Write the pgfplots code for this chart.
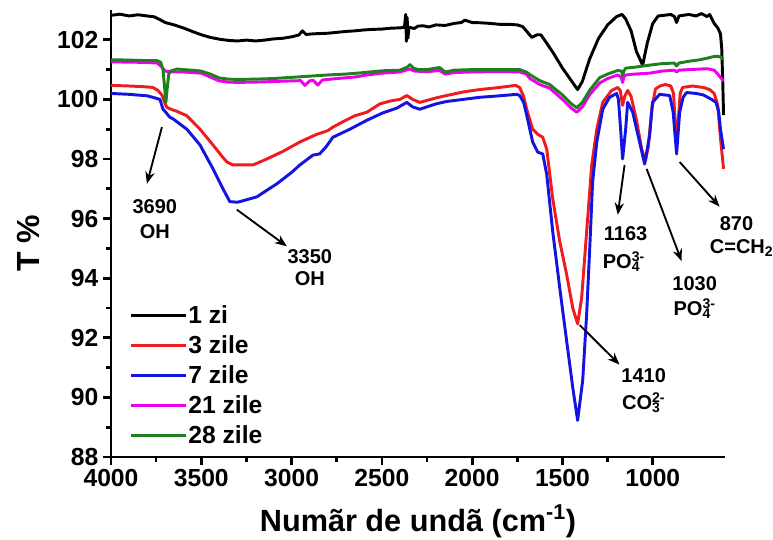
\documentclass[border=0pt]{standalone}
\usepackage{fontspec}
\setmainfont{Liberation Sans}
\usepackage{pgfplots}
\pgfplotsset{compat=1.18}
\usetikzlibrary{arrows.meta}
\definecolor{cblue}{RGB}{20,20,225}
\definecolor{cred}{RGB}{238,28,28}
\definecolor{cmag}{RGB}{238,0,238}
\definecolor{cgreen}{RGB}{30,128,30}
\newcommand\annfont{\bfseries\fontsize{15}{16}\selectfont}
\newcommand\subsup[2]{\rlap{\textsubscript{#1}}\textsuperscript{#2}}
\begin{document}
\begin{tikzpicture}
\path[use as bounding box] (-83.25pt,-61.5pt) rectangle (496.5pt,342.75pt);
\begin{axis}[
  at={(0pt,0pt)}, anchor=south west,
  scale only axis, width=460.5pt, height=335.25pt,
  xmin=600, xmax=4000, ymin=88, ymax=103, x dir=reverse,
  axis x line=bottom, axis y line=left,
  axis line style={-, line width=2.2pt},
  every tick/.style={black, line width=2pt},
  tick align=outside,
  major tick length=6pt, minor tick length=3.5pt,
  xtick={1000,1500,2000,2500,3000,3500,4000},
  ytick={88,90,92,94,96,98,100,102},
  minor x tick num=1, minor y tick num=1,
  /pgf/number format/assume math mode=true,
  /pgf/number format/1000 sep={},
  ticklabel style={font=\bfseries\fontsize{18.5}{18.5}\selectfont},
  xlabel={Numãr de undã (cm\textsuperscript{-1})},
  ylabel={T \%},
  xlabel style={font=\bfseries\fontsize{23}{23}\selectfont, at={(axis description cs:0.5,-0.167)}, anchor=base},
  ylabel style={font=\bfseries\fontsize{24}{24}\selectfont, at={(axis description cs:-0.135,0.478)}, anchor=center},
  clip=false,
  legend style={at={(axis description cs:0.023,0.348)}, anchor=north west, draw=none, fill=none,
    font=\bfseries\fontsize{18.5}{18.5}\selectfont, row sep=5.6pt,
    nodes={inner sep=1pt}},
  legend cell align=left,
  legend image code/.code={\draw[#1] (0pt,0pt) -- (41pt,0pt);},
  every axis plot/.append style={line width=2.2pt, line join=round},
]
% 1 zi
\addplot[black] coordinates {
(4000,102.82) (3950,102.86) (3900,102.80) (3850,102.84) (3800,102.80) (3760,102.77) (3730,102.68) (3700,102.58) (3650,102.50) (3600,102.40) (3550,102.28) (3500,102.17) (3450,102.08) (3400,102.02) (3350,101.98) (3300,101.96) (3250,101.99) (3200,101.96) (3150,101.99) (3100,102.03) (3050,102.05) (3000,102.10) (2960,102.16) (2940,102.30) (2920,102.18) (2880,102.20) (2800,102.22) (2750,102.25) (2700,102.28) (2650,102.30) (2600,102.33) (2550,102.35) (2500,102.36) (2450,102.39) (2400,102.40) (2375,102.42) (2368,102.85) (2364,101.95) (2360,102.75) (2356,102.05) (2350,102.42) (2320,102.38) (2300,102.46) (2270,102.47) (2240,102.43) (2200,102.50) (2150,102.48) (2100,102.55) (2060,102.58) (2040,102.66) (2020,102.62) (2000,102.58) (1950,102.57) (1900,102.55) (1850,102.52) (1800,102.52) (1750,102.50) (1720,102.44) (1700,102.30) (1670,102.08) (1640,102.17) (1620,102.17) (1600,102.00) (1550,101.55) (1500,101.05) (1450,100.62) (1416,100.33) (1390,100.60) (1350,101.35) (1300,102.05) (1250,102.50) (1200,102.78) (1170,102.85) (1150,102.70) (1120,102.30) (1090,101.60) (1056,101.15) (1030,101.90) (1000,102.55) (970,102.80) (940,102.82) (900,102.85) (880,102.78) (868,102.58) (855,102.80) (800,102.85) (760,102.80) (730,102.88) (700,102.78) (685,102.85) (660,102.55) (640,102.40) (625,102.20) (618,101.70) (612,100.50) (608,99.47)
};
\addlegendentry{1 zi}
% 3 zile
\addplot[cred] coordinates {
(4000,100.47) (3900,100.45) (3800,100.42) (3768,100.40) (3740,100.30) (3718,100.15) (3700,99.85) (3690,99.73) (3660,99.65) (3635,99.60) (3580,99.45) (3507,99.00) (3435,98.47) (3380,98.05) (3358,97.90) (3325,97.80) (3270,97.80) (3214,97.80) (3137,98.00) (3050,98.25) (2954,98.57) (2900,98.72) (2860,98.83) (2800,98.95) (2771,99.07) (2700,99.30) (2650,99.45) (2583,99.57) (2511,99.85) (2450,99.95) (2400,100.00) (2362,100.13) (2330,100.00) (2290,99.90) (2200,100.05) (2141,100.13) (2050,100.25) (1958,100.33) (1850,100.40) (1760,100.47) (1737,100.40) (1715,100.10) (1698,99.67) (1665,99.00) (1637,98.83) (1609,98.73) (1587,98.33) (1554,96.67) (1515,95.23) (1477,94.13) (1443,93.00) (1416,92.47) (1394,93.33) (1366,95.57) (1338,97.80) (1310,99.00) (1277,99.90) (1228,100.30) (1194,100.40) (1180,100.30) (1167,99.80) (1155,100.10) (1139,100.30) (1120,100.10) (1090,99.30) (1060,98.30) (1040,97.95) (1025,98.40) (1005,99.70) (985,100.35) (960,100.45) (930,100.50) (900,100.45) (885,100.20) (870,98.60) (860,99.20) (848,100.20) (835,100.40) (780,100.45) (720,100.40) (685,100.33) (660,100.20) (640,99.80) (625,98.70) (608,97.67)
};
\addlegendentry{3 zile}
% 7 zile
\addplot[cblue] coordinates {
(4000,100.20) (3900,100.17) (3800,100.12) (3768,100.07) (3729,100.00) (3712,99.67) (3701,99.60) (3674,99.40) (3657,99.35) (3580,99.00) (3507,98.47) (3435,97.67) (3380,97.00) (3342,96.57) (3300,96.55) (3286,96.57) (3192,96.73) (3137,96.95) (3081,97.17) (3000,97.55) (2954,97.80) (2882,98.13) (2845,98.17) (2810,98.40) (2771,98.73) (2677,99.00) (2583,99.30) (2494,99.55) (2420,99.70) (2362,99.90) (2330,99.75) (2290,99.67) (2200,99.85) (2141,99.93) (2050,100.00) (1958,100.07) (1850,100.12) (1753,100.17) (1737,100.13) (1715,99.90) (1698,99.47) (1665,98.57) (1637,98.23) (1609,98.17) (1587,97.47) (1554,95.57) (1515,93.67) (1477,91.90) (1443,90.33) (1416,89.23) (1388,90.57) (1366,92.80) (1349,95.00) (1333,97.23) (1310,98.57) (1277,99.67) (1239,100.07) (1200,100.20) (1190,100.00) (1178,99.00) (1167,98.00) (1150,99.00) (1139,99.90) (1111,99.57) (1073,98.57) (1045,97.83) (1017,98.80) (1001,99.90) (962,100.17) (906,100.13) (887,99.57) (868,98.17) (851,99.57) (832,100.07) (813,100.23) (760,100.20) (720,100.15) (674,100.00) (650,99.90) (635,99.60) (625,99.00) (608,98.33)
};
\addlegendentry{7 zile}
% 21 zile
\addplot[cmag] coordinates {
(4000,101.26) (3900,101.25) (3800,101.24) (3745,101.22) (3720,101.10) (3700,100.95) (3670,100.92) (3600,100.92) (3550,100.90) (3500,100.88) (3450,100.75) (3400,100.62) (3350,100.58) (3300,100.57) (3200,100.58) (3100,100.60) (3000,100.62) (2950,100.63) (2926,100.47) (2900,100.62) (2880,100.64) (2855,100.48) (2830,100.65) (2750,100.70) (2650,100.75) (2583,100.82) (2500,100.88) (2400,100.92) (2345,101.02) (2320,100.95) (2250,100.93) (2180,100.97) (2150,100.85) (2100,100.90) (2000,100.92) (1900,100.93) (1800,100.93) (1737,100.92) (1700,100.85) (1680,100.70) (1626,100.50) (1571,100.38) (1500,100.00) (1450,99.70) (1421,99.57) (1390,99.75) (1350,100.15) (1294,100.55) (1250,100.70) (1194,100.82) (1175,100.75) (1167,100.57) (1160,100.75) (1150,100.82) (1100,100.85) (1017,100.88) (950,100.95) (880,100.98) (868,100.92) (855,100.98) (800,101.00) (700,101.03) (660,100.98) (640,100.85) (620,100.70) (608,100.62)
};
\addlegendentry{21 zile}
% 28 zile
\addplot[cgreen] coordinates {
(4000,101.33) (3900,101.32) (3800,101.30) (3745,101.30) (3725,101.25) (3712,101.00) (3700,100.20) (3696,99.90) (3690,100.30) (3680,100.85) (3670,100.95) (3635,101.02) (3600,101.00) (3550,100.98) (3500,100.95) (3450,100.85) (3400,100.72) (3350,100.68) (3300,100.67) (3200,100.68) (3100,100.70) (3000,100.74) (2900,100.78) (2800,100.82) (2700,100.85) (2600,100.90) (2500,100.96) (2400,100.98) (2360,101.08) (2345,101.17) (2325,101.05) (2300,101.00) (2250,101.00) (2180,101.07) (2150,100.92) (2100,100.98) (2000,101.00) (1900,101.00) (1800,101.00) (1737,101.00) (1700,100.92) (1680,100.83) (1626,100.63) (1571,100.50) (1500,100.15) (1450,99.85) (1421,99.72) (1390,99.90) (1350,100.30) (1294,100.73) (1250,100.85) (1194,100.97) (1172,100.95) (1167,100.80) (1160,100.95) (1150,101.05) (1100,101.08) (1017,101.15) (950,101.20) (880,101.22) (868,101.12) (855,101.22) (800,101.28) (750,101.32) (700,101.38) (668,101.43) (640,101.45) (620,101.40) (608,101.35)
};
\addlegendentry{28 zile}
% annotations
\draw[line width=1.4pt, -{Stealth[length=9pt,width=7pt]}] (axis cs:3718,99.07) -- (axis cs:3801,97.17);
\node[font=\annfont] at (axis cs:3757,96.40) {3690};
\node[font=\annfont] at (axis cs:3757,95.57) {OH};
\draw[line width=1.4pt, -{Stealth[length=9pt,width=7pt]}] (axis cs:3303,96.30) -- (axis cs:3026,95.07);
\node[font=\annfont] at (axis cs:2899,94.73) {3350};
\node[font=\annfont] at (axis cs:2899,94.00) {OH};
\draw[line width=1.4pt, -{Stealth[length=9pt,width=7pt]}] (axis cs:1156,97.80) -- (axis cs:1194,96.13);
\node[font=\annfont] at (axis cs:1150,95.50) {1163};
\node[font=\annfont] at (axis cs:1160,94.57) {PO\subsup{4}{3-}};
\draw[line width=1.4pt, -{Stealth[length=9pt,width=7pt]}] (axis cs:1034,97.67) -- (axis cs:840,94.57);
\node[font=\annfont] at (axis cs:768,93.83) {1030};
\node[font=\annfont] at (axis cs:768,92.97) {PO\subsup{4}{3-}};
\draw[line width=1.4pt, -{Stealth[length=9pt,width=7pt]}] (axis cs:851,97.90) -- (axis cs:630,96.40);
\node[font=\annfont] at (axis cs:536,95.83) {870};
\node[font=\annfont, anchor=west, inner sep=0pt] at (axis cs:685,95.00) {C=CH\textsubscript{2}};
\draw[line width=1.4pt, -{Stealth[length=9pt,width=7pt]}] (axis cs:1405,92.43) -- (axis cs:1184,91.10);
\node[font=\annfont] at (axis cs:1050,90.73) {1410};
\node[font=\annfont] at (axis cs:1050,89.83) {CO\subsup{3}{2-}};
\end{axis}
\end{tikzpicture}
\end{document}
